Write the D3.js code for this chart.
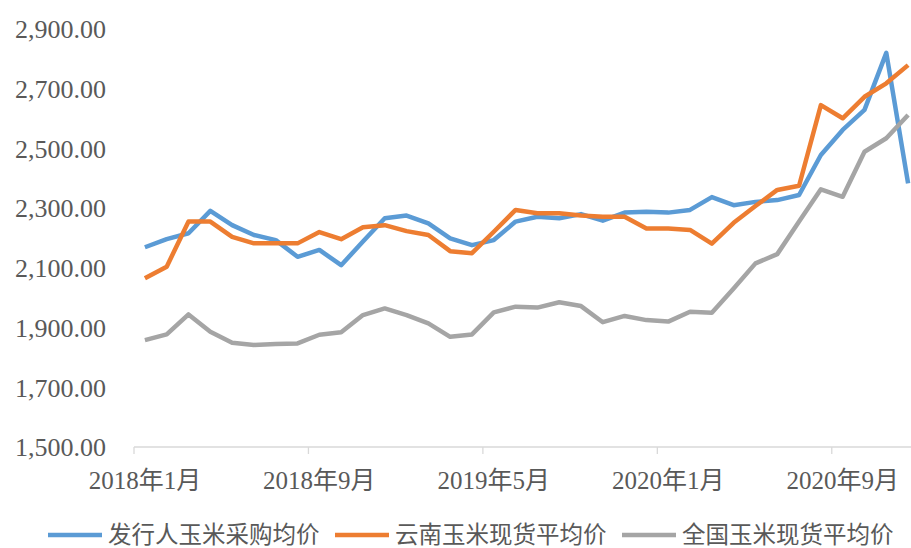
<!DOCTYPE html>
<html>
<head>
<meta charset="utf-8">
<script src="https://cdn.jsdelivr.net/npm/d3@7"></script>
<style>
  html, body { margin: 0; padding: 0; background: #fff; }
  svg text { font-family: "Liberation Serif", "Noto Sans CJK SC", serif; fill: #595959; }
</style>
</head>
<body>
<svg id="chart" width="911" height="548"></svg>
<script>
// Monthly categories, Jan 2018 – Dec 2020
const months = [
  "2018年1月","2018年2月","2018年3月","2018年4月","2018年5月","2018年6月",
  "2018年7月","2018年8月","2018年9月","2018年10月","2018年11月","2018年12月",
  "2019年1月","2019年2月","2019年3月","2019年4月","2019年5月","2019年6月",
  "2019年7月","2019年8月","2019年9月","2019年10月","2019年11月","2019年12月",
  "2020年1月","2020年2月","2020年3月","2020年4月","2020年5月","2020年6月",
  "2020年7月","2020年8月","2020年9月","2020年10月","2020年11月","2020年12月"
];

// 发行人玉米采购均价
const issuerPrice = [
  2169, 2196, 2216, 2291, 2243, 2210, 2193, 2137, 2160, 2109, 2188, 2266,
  2275, 2249, 2199, 2176, 2193, 2255, 2271, 2266, 2280, 2258, 2285, 2288,
  2285, 2294, 2337, 2310, 2321, 2327, 2344, 2478, 2562, 2629, 2820, 2383
];

// 云南玉米现货平均价
const yunnanPrice = [
  2065, 2104, 2255, 2255, 2204, 2182, 2182, 2182, 2220, 2196, 2236, 2243,
  2223, 2210, 2156, 2149, 2221, 2294, 2283, 2283, 2275, 2271, 2271, 2232,
  2232, 2227, 2181, 2251, 2307, 2361, 2375, 2645, 2601, 2673, 2718, 2779
];

// 全国玉米现货平均价
const nationalPrice = [
  1858, 1877, 1944, 1886, 1849, 1842, 1845, 1847, 1876, 1884, 1942, 1964,
  1942, 1914, 1869, 1877, 1951, 1970, 1967, 1985, 1972, 1918, 1939, 1925,
  1920, 1953, 1950, 2031, 2115, 2146, 2255, 2363, 2338, 2489, 2534, 2612
];

const yTicks = [1500, 1700, 1900, 2100, 2300, 2500, 2700, 2900];
const labelMonths = ["2018年1月", "2018年9月", "2019年5月", "2020年1月", "2020年9月"];

const seriesList = [
  { name: "发行人玉米采购均价", values: issuerPrice, color: "#5B9BD5" },
  { name: "云南玉米现货平均价", values: yunnanPrice, color: "#ED7D31" },
  { name: "全国玉米现货平均价", values: nationalPrice, color: "#A5A5A5" }
];

const svg = d3.select("#chart");
const plot = { left: 134, right: 919, top: 29, bottom: 447 };

const x = d3.scaleBand().domain(months).range([plot.left, plot.right]).padding(0);
const y = d3.scaleLinear().domain([1500, 2900]).range([plot.bottom, plot.top]);
const cx = m => x(m) + x.bandwidth() / 2;

// Value axis labels (no axis line, no gridlines)
const yAxis = d3.axisLeft(y).tickValues(yTicks).tickFormat(d3.format(",.2f")).tickSize(0).tickPadding(0);
const gy = svg.append("g").attr("transform", "translate(106,0)").call(yAxis);
gy.select(".domain").remove();
gy.selectAll("text").style("font-size", "26px").attr("fill", "#595959").attr("dy", "0.34em");

// Category axis line
svg.append("line")
  .attr("x1", plot.left).attr("x2", plot.right)
  .attr("y1", plot.bottom).attr("y2", plot.bottom)
  .attr("stroke", "#D9D9D9").attr("stroke-width", 1.3);

// Tick marks sit on category boundaries, every 8 months
svg.append("g").selectAll("line")
  .data(labelMonths)
  .join("line")
  .attr("x1", d => x(d)).attr("x2", d => x(d))
  .attr("y1", plot.bottom).attr("y2", plot.bottom + 7)
  .attr("stroke", "#D9D9D9").attr("stroke-width", 1.3);

// Category labels centred on their month
const xAxis = d3.axisBottom(x).tickValues(labelMonths).tickSize(0).tickPadding(0);
const gx = svg.append("g").attr("transform", `translate(0,${plot.bottom})`).call(xAxis);
gx.select(".domain").remove();
gx.selectAll("text").style("font-size", "25px").attr("fill", "#595959").attr("y", 42).attr("dy", 0);

// Series lines
const line = d3.line()
  .x((d, i) => cx(months[i]))
  .y(d => y(d));

svg.append("g").selectAll("path")
  .data(seriesList)
  .join("path")
  .attr("fill", "none")
  .attr("stroke", d => d.color)
  .attr("stroke-width", 4.5)
  .attr("stroke-linejoin", "round")
  .attr("d", d => line(d.values));

// Legend
const legendItems = [
  { lineX: 48, textX: 108 },
  { lineX: 335, textX: 395 },
  { lineX: 622, textX: 682 }
];
const legend = svg.append("g").selectAll("g")
  .data(seriesList)
  .join("g")
  .attr("transform", "translate(0,535)");
legend.append("line")
  .attr("x1", (d, i) => legendItems[i].lineX)
  .attr("x2", (d, i) => legendItems[i].lineX + 54)
  .attr("y1", 0).attr("y2", 0)
  .attr("stroke", d => d.color)
  .attr("stroke-width", 4.5);
legend.append("text")
  .attr("x", (d, i) => legendItems[i].textX)
  .attr("y", 0)
  .attr("dy", "0.33em")
  .style("font-size", "23.5px")
  .text(d => d.name);
</script>
</body>
</html>
